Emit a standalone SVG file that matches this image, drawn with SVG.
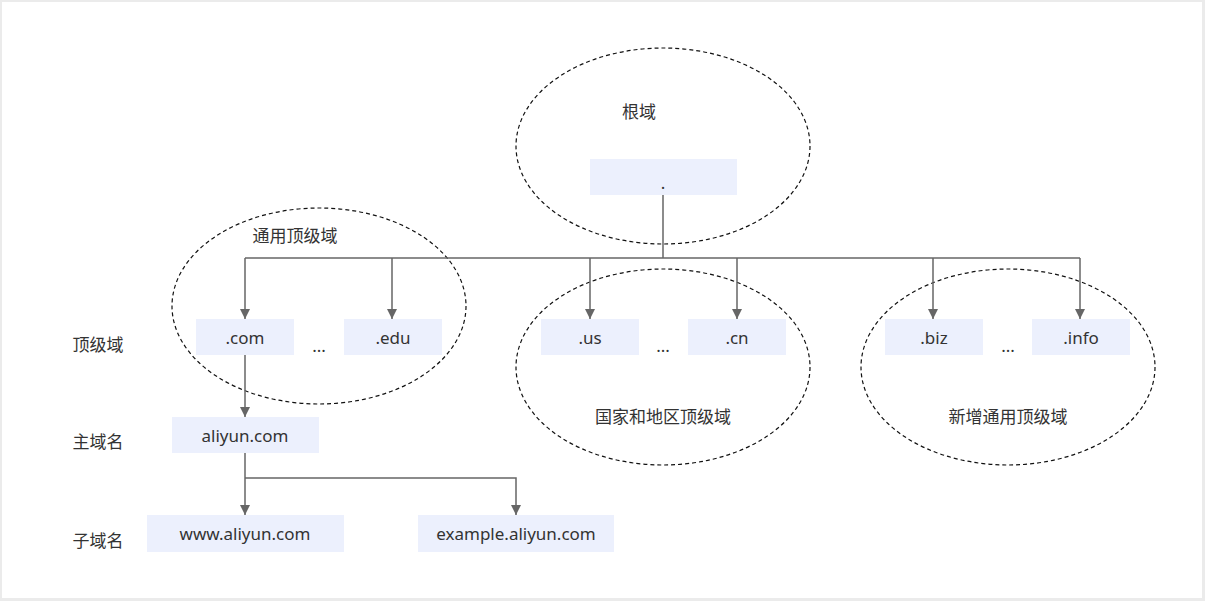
<svg xmlns="http://www.w3.org/2000/svg" width="1205" height="601" viewBox="0 0 1205 601">
<defs>
<style>
.box{fill:#ecf0fd;}
.t{font-family:"Noto Sans","Noto Sans CJK SC",sans-serif;font-size:17px;fill:#333;text-anchor:middle;}
.c{font-family:"Noto Sans CJK SC","Noto Sans",sans-serif;font-size:17px;fill:#333;text-anchor:middle;}
.ell{fill:none;stroke:#111;stroke-width:1.2;stroke-dasharray:4,3;}
.ln{fill:none;stroke:#666;stroke-width:1.5;}
</style>
<marker id="arr" viewBox="0 0 10 10" refX="10" refY="5" markerWidth="10" markerHeight="10" markerUnits="userSpaceOnUse" orient="auto">
<path d="M0,0 L10,5 L0,10 z" fill="#666"/>
</marker>
</defs>
<rect x="0" y="0" width="1205" height="601" fill="#ebebeb"/>
<rect x="2" y="2" width="1200" height="596" fill="#ffffff"/>

<g id="groups">
<ellipse class="ell" cx="663" cy="146" rx="147" ry="98"/>
<ellipse class="ell" cx="319" cy="306" rx="147" ry="98"/>
<ellipse class="ell" cx="663" cy="367" rx="147" ry="98"/>
<ellipse class="ell" cx="1008" cy="367" rx="147" ry="98"/>
<text class="c" x="639" y="118">根域</text>
<text class="c" x="295" y="242">通用顶级域</text>
<text class="c" x="663" y="423">国家和地区顶级域</text>
<text class="c" x="1008" y="423">新增通用顶级域</text>
</g>

<g id="levels">
<text class="c" x="98" y="351">顶级域</text>
<text class="c" x="98" y="448">主域名</text>
<text class="c" x="98" y="547">子域名</text>
</g>

<g id="connectors">
<path class="ln" d="M663,195 V258"/>
<path class="ln" d="M245,258 H1080"/>
<path class="ln" d="M245,258 V319" marker-end="url(#arr)"/>
<path class="ln" d="M392,258 V319" marker-end="url(#arr)"/>
<path class="ln" d="M590,258 V319" marker-end="url(#arr)"/>
<path class="ln" d="M737,258 V319" marker-end="url(#arr)"/>
<path class="ln" d="M933,258 V319" marker-end="url(#arr)"/>
<path class="ln" d="M1080,258 V319" marker-end="url(#arr)"/>
<path class="ln" d="M245,355 V417" marker-end="url(#arr)"/>
<path class="ln" d="M245,453 V515" marker-end="url(#arr)"/>
<path class="ln" d="M245,478 H516 V515" marker-end="url(#arr)"/>
</g>

<g id="root"><rect class="box" x="590" y="159" width="147" height="36"/><text class="t" x="663" y="189">.</text></g>
<g id="com"><rect class="box" x="196" y="319" width="98" height="36"/><text class="t" x="245" y="344">.com</text></g>
<g id="edu"><rect class="box" x="344" y="319" width="98" height="36"/><text class="t" x="393" y="344">.edu</text></g>
<g id="us"><rect class="box" x="541" y="319" width="98" height="36"/><text class="t" x="590" y="344">.us</text></g>
<g id="cn"><rect class="box" x="688" y="319" width="98" height="36"/><text class="t" x="737" y="344">.cn</text></g>
<g id="biz"><rect class="box" x="885" y="319" width="98" height="36"/><text class="t" x="934" y="344">.biz</text></g>
<g id="info"><rect class="box" x="1032" y="319" width="98" height="36"/><text class="t" x="1081" y="344">.info</text></g>
<g id="dots">
<text class="t" x="319" y="352">...</text>
<text class="t" x="663" y="352">...</text>
<text class="t" x="1008" y="352">...</text>
</g>
<g id="aliyun"><rect class="box" x="172" y="417" width="147" height="36"/><text class="t" x="245" y="442">aliyun.com</text></g>
<g id="www"><rect class="box" x="147" y="515" width="197" height="37"/><text class="t" x="245" y="540">www.aliyun.com</text></g>
<g id="example"><rect class="box" x="418" y="515" width="196" height="37"/><text class="t" x="516" y="540">example.aliyun.com</text></g>
</svg>
